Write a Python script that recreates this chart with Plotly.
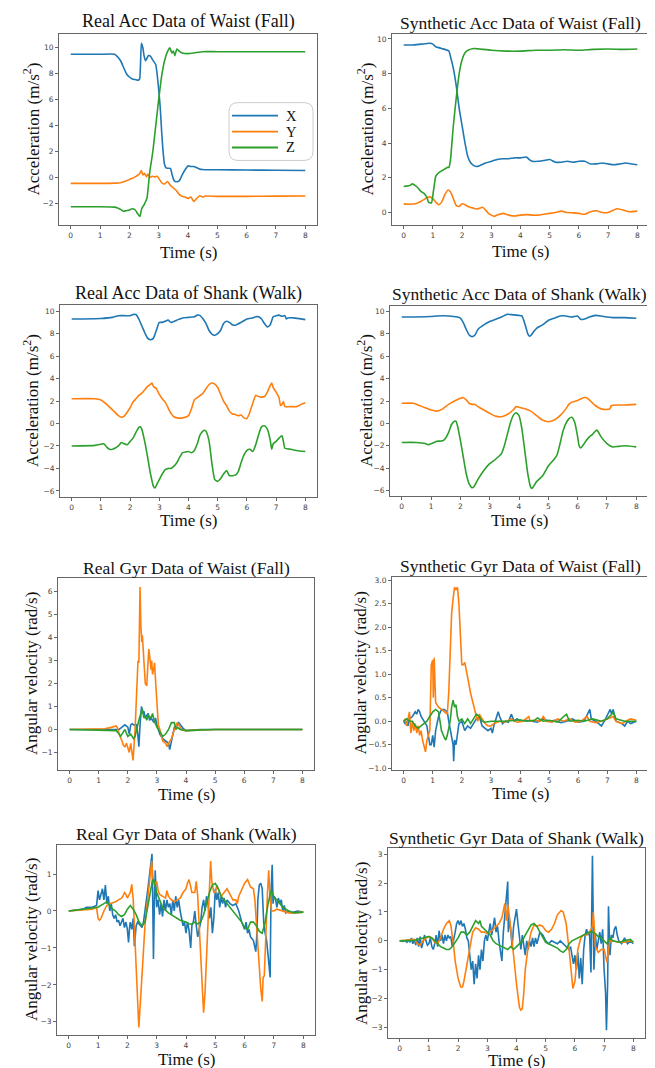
import plotly.graph_objects as go

W, H = 655, 1068
BLUE, ORANGE, GREEN = "#1f77b4", "#ff7f0e", "#2ca02c"

# ---------------- Panel 1: Real Acc Data of Waist (Fall) ----------------
p1_x_t = [0, 0.5, 1.0, 1.5, 1.6, 1.7, 1.8, 1.9, 2.0, 2.1, 2.2, 2.3, 2.35, 2.41, 2.46, 2.5, 2.55, 2.6, 2.65, 2.72, 2.8, 2.9, 3.0, 3.05, 3.1, 3.15, 3.2, 3.25, 3.3, 3.4, 3.45, 3.5, 3.55, 3.6, 3.7, 3.8, 3.9, 4.0, 4.1, 4.2, 4.3, 4.4, 4.5, 4.6, 5.0, 6.0, 7.0, 8.0]
p1_x_v = [9.5, 9.5, 9.5, 9.5, 9.3, 9.0, 8.5, 8.0, 7.75, 7.6, 7.55, 7.5, 7.6, 10.35, 10.0, 9.4, 9.0, 9.2, 9.4, 9.35, 9.05, 8.7, 6.8, 5.5, 3.6, 2.0, 1.0, 0.75, 0.72, 0.7, 0.3, -0.1, -0.3, -0.32, -0.25, 0.2, 0.6, 0.9, 0.85, 0.85, 0.75, 0.65, 0.62, 0.6, 0.6, 0.58, 0.56, 0.55]
p1_y_t = [0, 0.5, 1.0, 1.5, 1.7, 1.8, 1.9, 2.0, 2.1, 2.2, 2.3, 2.35, 2.41, 2.46, 2.52, 2.58, 2.63, 2.7, 2.78, 2.85, 2.95, 3.0, 3.1, 3.2, 3.3, 3.4, 3.5, 3.6, 3.7, 3.8, 3.9, 4.0, 4.1, 4.2, 4.3, 4.4, 4.5, 4.6, 5.0, 6.0, 7.0, 8.0]
p1_y_v = [-0.45, -0.45, -0.45, -0.43, -0.4, -0.33, -0.25, -0.15, -0.05, 0.05, 0.2, 0.3, 0.55, 0.2, 0.32, 0.05, 0.28, 0.0, 0.1, 0.05, 0.1, -0.05, -0.4, -0.5, -0.3, -0.6, -0.8, -1.0, -1.3, -1.45, -1.5, -1.6, -1.5, -1.85, -1.6, -1.4, -1.5, -1.42, -1.45, -1.45, -1.43, -1.42]
p1_z_t = [0, 0.5, 1.0, 1.5, 1.6, 1.7, 1.8, 1.9, 2.0, 2.1, 2.2, 2.3, 2.36, 2.42, 2.5, 2.6, 2.65, 2.7, 2.8, 2.9, 3.0, 3.1, 3.2, 3.3, 3.38, 3.45, 3.5, 3.55, 3.62, 3.7, 3.8, 4.0, 4.2, 4.5, 5.0, 6.0, 7.0, 8.0]
p1_z_v = [-2.25, -2.25, -2.25, -2.28, -2.35, -2.45, -2.6, -2.55, -2.5, -2.4, -2.5, -2.85, -3.0, -2.4, -2.1, -1.6, -0.6, 0.5, 2.0, 4.0, 6.0, 7.8, 9.0, 9.7, 10.0, 9.6, 9.75, 9.4, 9.9, 9.75, 9.6, 9.55, 9.6, 9.7, 9.7, 9.7, 9.7, 9.7]

# ---------------- Panel 2: Synthetic Acc Data of Waist (Fall) ----------------
p2_x_t = [0, 0.3, 0.6, 0.9, 1.0, 1.1, 1.3, 1.5, 1.55, 1.6, 1.7, 1.8, 1.9, 2.0, 2.1, 2.2, 2.3, 2.4, 2.5, 2.6, 2.8, 3.0, 3.2, 3.4, 3.6, 3.8, 4.0, 4.2, 4.3, 4.4, 4.6, 4.8, 5.0, 5.2, 5.4, 5.6, 5.8, 6.0, 6.2, 6.4, 6.6, 6.8, 7.0, 7.2, 7.4, 7.6, 7.8, 8.0]
p2_x_v = [9.65, 9.65, 9.7, 9.75, 9.7, 9.55, 9.45, 9.35, 9.3, 9.0, 8.3, 7.3, 6.0, 5.0, 4.0, 3.2, 2.85, 2.7, 2.65, 2.7, 2.85, 2.95, 3.05, 3.1, 3.1, 3.15, 3.15, 3.2, 3.05, 2.95, 2.95, 3.0, 3.05, 2.9, 2.9, 2.95, 2.9, 2.95, 2.95, 2.8, 2.8, 2.85, 2.8, 2.75, 2.8, 2.85, 2.8, 2.75]
p2_y_t = [0, 0.2, 0.4, 0.6, 0.8, 0.9, 1.0, 1.1, 1.2, 1.3, 1.4, 1.52, 1.6, 1.7, 1.8, 1.9, 2.0, 2.1, 2.2, 2.4, 2.5, 2.6, 2.7, 2.8, 2.9, 3.0, 3.1, 3.2, 3.4, 3.6, 3.8, 4.0, 4.2, 4.4, 4.6, 4.8, 5.0, 5.2, 5.4, 5.6, 5.8, 6.0, 6.2, 6.4, 6.6, 6.8, 7.0, 7.2, 7.3, 7.5, 7.7, 8.0]
p2_y_v = [0.5, 0.48, 0.5, 0.65, 0.85, 0.9, 0.8, 0.6, 0.45, 0.6, 1.0, 1.3, 1.2, 0.8, 0.4, 0.35, 0.5, 0.45, 0.35, 0.25, 0.2, 0.25, 0.3, 0.15, -0.05, -0.15, -0.22, -0.15, -0.05, -0.15, -0.2, -0.15, -0.12, -0.15, -0.15, -0.1, -0.05, 0.0, 0.08, 0.0, -0.02, -0.05, -0.1, 0.05, 0.1, 0.0, 0.0, 0.15, 0.22, 0.15, 0.05, 0.08]
p2_z_t = [0, 0.2, 0.3, 0.4, 0.5, 0.6, 0.7, 0.8, 0.85, 0.95, 1.0, 1.05, 1.1, 1.2, 1.3, 1.4, 1.5, 1.55, 1.6, 1.7, 1.8, 1.9, 2.0, 2.1, 2.2, 2.4, 2.6, 3.0, 3.5, 4.0, 4.5, 5.0, 5.5, 6.0, 6.5, 7.0, 7.5, 8.0]
p2_z_v = [1.5, 1.55, 1.65, 1.55, 1.4, 1.2, 1.1, 0.85, 0.6, 0.55, 1.0, 1.6, 2.1, 2.3, 2.4, 2.5, 2.6, 2.6, 3.0, 5.0, 6.6, 8.0, 8.8, 9.2, 9.35, 9.45, 9.42, 9.35, 9.3, 9.3, 9.35, 9.35, 9.38, 9.35, 9.4, 9.42, 9.4, 9.42]

# ---------------- Panel 3: Real Acc Data of Shank (Walk) ----------------
p3_x_t = [0, 1.0, 1.4, 1.6, 1.8, 2.0, 2.1, 2.2, 2.3, 2.4, 2.5, 2.6, 2.7, 2.8, 2.9, 3.0, 3.1, 3.2, 3.3, 3.4, 3.6, 3.8, 4.0, 4.2, 4.3, 4.4, 4.5, 4.6, 4.7, 4.8, 4.9, 5.0, 5.1, 5.2, 5.3, 5.4, 5.5, 5.6, 5.8, 6.0, 6.2, 6.3, 6.4, 6.5, 6.6, 6.7, 6.8, 6.9, 7.0, 7.1, 7.2, 7.3, 7.35, 7.4, 7.6, 8.0]
p3_x_v = [9.3, 9.35, 9.45, 9.6, 9.6, 9.6, 9.7, 9.7, 9.3, 8.7, 8.1, 7.6, 7.45, 7.6, 8.3, 9.0, 9.0, 9.1, 9.2, 9.0, 9.2, 9.4, 9.45, 9.5, 9.65, 9.6, 9.3, 8.9, 8.3, 7.95, 7.85, 8.0, 8.3, 8.9, 9.1, 9.0, 8.8, 8.75, 9.0, 9.3, 9.4, 9.5, 9.5, 9.3, 8.9, 8.6, 8.8, 9.5, 9.6, 9.65, 9.55, 9.6, 9.3, 9.4, 9.4, 9.25]
p3_y_t = [0, 0.8, 1.0, 1.2, 1.4, 1.6, 1.7, 1.8, 1.9, 2.0, 2.1, 2.2, 2.3, 2.4, 2.5, 2.6, 2.7, 2.75, 2.8, 2.9, 3.0, 3.1, 3.2, 3.3, 3.4, 3.5, 3.6, 3.8, 4.0, 4.1, 4.2, 4.3, 4.4, 4.5, 4.6, 4.7, 4.8, 4.9, 5.0, 5.1, 5.2, 5.3, 5.4, 5.5, 5.6, 5.7, 5.8, 5.9, 6.0, 6.1, 6.2, 6.3, 6.4, 6.5, 6.6, 6.7, 6.8, 6.85, 6.9, 7.0, 7.1, 7.15, 7.2, 7.25, 7.3, 7.5, 7.7, 7.9, 8.0]
p3_y_v = [2.2, 2.2, 2.1, 1.7, 1.2, 0.7, 0.55, 0.65, 1.0, 1.4, 1.9, 2.2, 2.5, 2.7, 3.0, 3.3, 3.5, 3.6, 3.3, 3.1, 2.6, 2.2, 1.9, 1.4, 0.9, 0.6, 0.5, 0.5, 0.7, 1.3, 2.1, 2.3, 2.5, 2.7, 3.1, 3.45, 3.6, 3.5, 3.2, 2.6, 2.0, 1.6, 1.1, 0.85, 0.8, 0.7, 0.75, 0.5, 0.45, 1.0, 1.8, 2.5, 2.4, 2.35, 2.4, 2.8, 3.4, 3.6, 3.2, 2.8, 2.3, 1.6, 1.7, 1.95, 1.5, 1.5, 1.5, 1.75, 1.85]
p3_z_t = [0, 0.8, 1.0, 1.1, 1.2, 1.3, 1.4, 1.6, 1.7, 1.8, 1.9, 2.0, 2.1, 2.2, 2.3, 2.35, 2.4, 2.5, 2.6, 2.7, 2.8, 2.85, 2.9, 3.0, 3.1, 3.2, 3.3, 3.4, 3.5, 3.6, 3.7, 3.8, 4.0, 4.1, 4.2, 4.3, 4.4, 4.5, 4.55, 4.6, 4.7, 4.8, 4.9, 5.0, 5.1, 5.2, 5.3, 5.35, 5.4, 5.6, 5.7, 5.8, 5.9, 6.0, 6.1, 6.2, 6.3, 6.4, 6.5, 6.6, 6.7, 6.8, 6.85, 6.9, 7.0, 7.1, 7.2, 7.25, 7.3, 7.5, 7.7, 8.0]
p3_z_v = [-2.0, -1.95, -1.85, -1.8, -2.1, -2.3, -2.3, -2.0, -1.7, -1.8, -1.9, -1.6, -1.3, -0.8, -0.35, -0.3, -0.5, -1.6, -3.0, -4.5, -5.6, -5.75, -5.5, -5.0, -4.5, -4.1, -4.0, -4.0, -3.8, -3.5, -3.0, -2.6, -2.5, -2.6, -2.4, -1.8, -1.0, -0.65, -0.6, -0.7, -1.5, -3.5, -5.0, -5.15, -4.9, -4.5, -4.2, -4.4, -4.65, -4.6, -4.3, -3.5, -2.8, -2.4, -2.3, -2.5, -1.9, -1.0, -0.3, -0.2, -0.5, -1.5, -2.3, -1.8, -1.6, -1.3, -1.1, -1.6, -2.2, -2.3, -2.4, -2.5]

# ---------------- Panel 4: Synthetic Acc Data of Shank (Walk) ----------------
p4_x_t = [0, 1.0, 1.2, 1.6, 1.9, 2.0, 2.1, 2.2, 2.3, 2.4, 2.5, 2.6, 2.8, 3.0, 3.2, 3.4, 3.6, 3.8, 4.0, 4.1, 4.2, 4.3, 4.35, 4.4, 4.5, 4.6, 4.8, 5.0, 5.2, 5.4, 5.6, 5.8, 6.0, 6.1, 6.2, 6.4, 6.6, 6.8, 7.0, 7.2, 7.6, 8.0]
p4_x_v = [9.5, 9.55, 9.6, 9.6, 9.5, 9.4, 9.0, 8.4, 7.9, 7.75, 7.9, 8.4, 8.8, 9.1, 9.3, 9.5, 9.75, 9.7, 9.65, 9.6, 8.9, 8.0, 7.8, 7.85, 8.2, 8.5, 8.8, 9.2, 9.4, 9.6, 9.6, 9.5, 9.6, 9.3, 9.3, 9.5, 9.65, 9.6, 9.5, 9.45, 9.45, 9.4]
p4_y_t = [0, 0.4, 0.6, 0.8, 1.0, 1.2, 1.4, 1.6, 1.8, 2.0, 2.1, 2.2, 2.3, 2.4, 2.5, 2.6, 2.8, 3.0, 3.2, 3.4, 3.6, 3.8, 3.9, 4.0, 4.2, 4.4, 4.6, 4.8, 5.0, 5.2, 5.4, 5.6, 5.7, 5.8, 6.0, 6.2, 6.3, 6.4, 6.6, 6.8, 7.0, 7.1, 7.15, 7.4, 7.6, 8.0]
p4_y_v = [1.8, 1.8, 1.6, 1.4, 1.2, 1.1, 1.3, 1.7, 2.0, 2.25, 2.3, 2.1, 1.8, 1.7, 1.7, 1.5, 1.2, 0.9, 0.65, 0.6, 0.8, 1.2, 1.5, 1.45, 1.3, 1.1, 0.7, 0.3, 0.15, 0.3, 0.7, 1.3, 1.7, 1.9, 2.05, 2.3, 2.3, 2.1, 1.6, 1.3, 1.25, 1.3, 1.6, 1.65, 1.65, 1.7]
p4_z_t = [0, 0.5, 0.8, 0.9, 1.1, 1.2, 1.4, 1.5, 1.6, 1.7, 1.8, 1.85, 1.9, 2.0, 2.1, 2.2, 2.3, 2.4, 2.45, 2.6, 2.8, 3.0, 3.2, 3.4, 3.5, 3.6, 3.7, 3.8, 3.9, 4.0, 4.1, 4.2, 4.3, 4.4, 4.45, 4.6, 4.8, 5.0, 5.2, 5.3, 5.4, 5.5, 5.6, 5.7, 5.8, 5.9, 6.0, 6.05, 6.1, 6.2, 6.3, 6.4, 6.5, 6.6, 6.65, 6.7, 6.8, 7.0, 7.2, 7.4, 7.6, 8.0]
p4_z_v = [-1.7, -1.7, -1.8, -1.9, -1.7, -1.6, -1.55, -1.3, -0.8, -0.1, 0.2, 0.2, -0.2, -1.5, -3.0, -4.5, -5.4, -5.75, -5.7, -5.0, -4.2, -3.6, -3.2, -2.7, -2.0, -1.0, 0.0, 0.7, 0.95, 0.7, -0.5, -2.5, -4.5, -5.7, -5.8, -5.2, -4.7, -3.8, -3.2, -2.8, -1.8, -0.7, 0.0, 0.4, 0.55, 0.1, -1.2, -2.0, -2.2, -1.9, -1.5, -1.2, -1.0, -0.7, -0.6, -0.75, -1.2, -1.8, -2.1, -2.05, -2.0, -2.1]

# ---------------- Panel 5: Real Gyr Data of Waist (Fall) ----------------
p5_x_t = [0, 1.0, 1.5, 1.7, 1.8, 1.9, 2.0, 2.05, 2.1, 2.15, 2.2, 2.3, 2.35, 2.38, 2.42, 2.47, 2.52, 2.55, 2.6, 2.7, 2.75, 2.8, 2.9, 2.95, 3.0, 3.1, 3.2, 3.3, 3.4, 3.44, 3.5, 3.55, 3.6, 3.7, 3.75, 3.8, 3.9, 4.0, 4.5, 5.0, 6.0, 7.0, 8.0]
p5_x_v = [0.0, 0.0, -0.02, 0.0, 0.1, 0.2, 0.1, -0.2, 0.2, 0.25, 0.2, 0.2, -0.3, -0.75, 0.2, 1.0, 0.7, 0.8, 0.5, 0.7, 0.4, 0.5, 0.3, 0.5, 0.2, -0.2, -0.4, -0.5, -0.6, -0.88, -0.4, -0.2, 0.1, 0.2, 0.3, 0.2, 0.05, -0.05, 0.0, 0.0, 0.0, 0.0, 0.0]
p5_y_t = [0, 1.0, 1.2, 1.4, 1.5, 1.6, 1.65, 1.7, 1.8, 1.85, 1.9, 1.95, 2.0, 2.05, 2.1, 2.15, 2.18, 2.25, 2.3, 2.32, 2.35, 2.38, 2.42, 2.45, 2.48, 2.5, 2.55, 2.6, 2.65, 2.7, 2.72, 2.75, 2.8, 2.82, 2.85, 2.9, 2.92, 2.95, 3.0, 3.05, 3.1, 3.15, 3.2, 3.3, 3.35, 3.4, 3.45, 3.5, 3.6, 3.65, 3.7, 3.75, 3.8, 3.85, 4.0, 5.0, 6.0, 7.0, 8.0]
p5_y_v = [0.0, 0.0, 0.03, 0.08, 0.12, 0.15, 0.05, -0.2, -0.5, -0.7, -0.75, -0.6, -0.8, -1.0, -0.6, -1.2, -1.35, 0.0, 1.5, 2.8, 3.0, 2.9, 6.2, 4.5, 3.8, 4.1, 3.0, 2.0, 1.9, 3.0, 3.5, 3.2, 2.6, 3.0, 2.4, 2.7, 2.9, 2.2, 1.0, 0.2, 0.0, -0.3, -0.5, -0.6, -0.75, -0.6, -0.5, -0.4, 0.0, 0.2, 0.3, 0.2, 0.1, 0.0, -0.05, 0.0, 0.0, 0.0, 0.0]
p5_z_t = [0, 1.5, 1.6, 1.7, 1.75, 1.8, 1.9, 2.0, 2.1, 2.2, 2.25, 2.3, 2.35, 2.4, 2.45, 2.5, 2.55, 2.6, 2.65, 2.7, 2.8, 2.85, 2.9, 3.0, 3.1, 3.2, 3.3, 3.4, 3.5, 3.6, 3.65, 3.7, 3.8, 4.0, 5.0, 6.0, 7.0, 8.0]
p5_z_v = [0.0, -0.02, -0.05, -0.2, -0.3, -0.2, 0.0, -0.3, -0.2, -0.4, -0.3, 0.0, 0.3, 0.5, 0.7, 0.9, 0.5, 0.6, 0.4, 0.6, 0.5, 0.7, 0.4, 0.1, -0.1, -0.3, -0.2, 0.0, 0.3, 0.3, 0.0, 0.1, 0.0, -0.05, 0.0, 0.0, 0.0, 0.0]

# ---------------- Panel 6: Synthetic Gyr Data of Waist (Fall) ----------------
p6_x_t = [0, 0.05, 0.1, 0.15, 0.2, 0.3, 0.4, 0.45, 0.5, 0.55, 0.6, 0.7, 0.8, 0.85, 0.9, 0.95, 1.0, 1.05, 1.1, 1.2, 1.3, 1.4, 1.5, 1.55, 1.6, 1.65, 1.7, 1.72, 1.75, 1.8, 1.85, 1.9, 2.0, 2.05, 2.1, 2.2, 2.3, 2.4, 2.5, 2.6, 2.7, 2.8, 2.9, 3.0, 3.05, 3.1, 3.2, 3.25, 3.3, 3.4, 3.5, 3.6, 3.7, 3.8, 3.9, 4.0, 4.2, 4.4, 4.6, 4.8, 5.0, 5.2, 5.4, 5.6, 5.8, 6.0, 6.2, 6.4, 6.45, 6.6, 6.8, 6.9, 7.1, 7.15, 7.2, 7.3, 7.5, 7.6, 7.7, 7.8, 8.0]
p6_x_v = [0.0, -0.05, 0.0, -0.1, 0.05, 0.1, 0.2, 0.15, 0.25, 0.2, 0.1, 0.0, -0.1, -0.3, -0.5, -0.5, -0.3, -0.55, -0.2, 0.1, 0.25, 0.25, 0.2, 0.0, -0.2, -0.4, -0.5, -0.85, -0.4, -0.5, -0.3, -0.05, 0.0, -0.1, -0.2, -0.1, -0.15, -0.05, 0.05, 0.1, -0.1, -0.15, -0.2, -0.15, -0.25, -0.1, 0.1, 0.2, 0.1, -0.05, 0.0, -0.02, 0.15, 0.0, 0.05, 0.0, 0.02, 0.0, -0.02, 0.05, 0.0, 0.02, -0.03, 0.0, 0.05, -0.02, 0.0, 0.25, 0.05, 0.0, -0.1, 0.0, 0.25, 0.15, 0.25, 0.0, -0.05, -0.1, 0.0, -0.05, 0.0]
p6_y_t = [0, 0.05, 0.1, 0.15, 0.2, 0.25, 0.3, 0.35, 0.4, 0.45, 0.5, 0.55, 0.6, 0.65, 0.7, 0.75, 0.8, 0.85, 0.9, 0.95, 1.0, 1.02, 1.05, 1.1, 1.15, 1.2, 1.3, 1.4, 1.5, 1.55, 1.6, 1.65, 1.7, 1.75, 1.8, 1.85, 1.9, 1.95, 2.0, 2.05, 2.1, 2.15, 2.2, 2.3, 2.4, 2.45, 2.5, 2.55, 2.6, 2.7, 2.8, 2.9, 3.0, 3.1, 3.3, 3.5, 3.7, 3.9, 4.1, 4.3, 4.35, 4.5, 4.7, 4.8, 4.9, 5.1, 5.3, 5.5, 5.7, 5.9, 6.1, 6.3, 6.4, 6.6, 6.8, 7.0, 7.2, 7.3, 7.5, 7.7, 7.8, 8.0]
p6_y_v = [0.0, 0.05, -0.1, 0.1, 0.2, -0.25, 0.0, -0.2, -0.05, -0.25, -0.1, -0.3, -0.2, -0.4, -0.55, -0.65, -0.4, -0.3, -0.2, 1.2, 1.3, 0.5, 1.35, 0.4, 0.35, 0.3, 0.25, 0.2, 0.15, 0.6, 1.5, 2.3, 2.6, 2.85, 2.8, 2.85, 2.5, 1.7, 1.2, 1.2, 1.25, 1.1, 0.9, 0.6, 0.35, 0.2, 0.1, 0.0, 0.15, 0.05, -0.05, -0.1, -0.1, -0.05, 0.0, -0.02, 0.05, -0.02, 0.0, 0.1, 0.0, 0.02, 0.0, 0.1, 0.0, -0.02, 0.05, 0.0, 0.05, -0.02, 0.0, 0.1, 0.0, -0.03, 0.0, 0.05, 0.1, 0.0, -0.05, 0.02, 0.05, 0.02]
p6_z_t = [0, 0.1, 0.2, 0.3, 0.4, 0.5, 0.6, 0.7, 0.8, 0.9, 1.0, 1.1, 1.2, 1.25, 1.3, 1.4, 1.45, 1.5, 1.6, 1.65, 1.7, 1.75, 1.8, 1.85, 1.9, 2.0, 2.1, 2.2, 2.3, 2.4, 2.5, 2.6, 2.7, 2.8, 3.0, 3.5, 4.0, 4.2, 4.5, 4.6, 4.8, 5.0, 5.3, 5.5, 5.6, 5.7, 6.0, 6.2, 6.5, 6.8, 7.0, 7.15, 7.2, 7.3, 7.6, 8.0]
p6_z_v = [0.0, 0.05, 0.0, 0.0, -0.1, -0.15, -0.1, -0.05, 0.0, 0.1, 0.2, 0.25, 0.2, 0.0, -0.2, -0.35, -0.4, -0.3, 0.0, 0.3, 0.45, 0.3, 0.35, 0.1, 0.0, 0.05, -0.05, 0.05, -0.05, 0.05, 0.15, 0.1, 0.0, -0.02, 0.0, 0.0, 0.03, 0.0, 0.02, 0.07, 0.0, 0.02, -0.02, 0.1, 0.15, 0.0, 0.02, 0.0, 0.05, 0.0, 0.05, 0.15, 0.2, 0.05, 0.0, 0.0]

# ---------------- Panel 7: Real Gyr Data of Shank (Walk) ----------------
p7_x_t = [0, 0.5, 0.6, 0.8, 0.95, 1.0, 1.05, 1.1, 1.15, 1.2, 1.25, 1.3, 1.35, 1.4, 1.45, 1.5, 1.55, 1.6, 1.65, 1.7, 1.75, 1.8, 1.85, 1.9, 1.95, 2.0, 2.04, 2.08, 2.1, 2.15, 2.2, 2.24, 2.3, 2.35, 2.4, 2.45, 2.5, 2.55, 2.6, 2.65, 2.7, 2.75, 2.84, 2.86, 2.89, 2.92, 2.95, 3.0, 3.05, 3.1, 3.15, 3.2, 3.25, 3.3, 3.35, 3.4, 3.45, 3.5, 3.55, 3.6, 3.65, 3.7, 3.75, 3.8, 3.85, 3.9, 3.95, 4.0, 4.05, 4.1, 4.16, 4.2, 4.25, 4.3, 4.35, 4.4, 4.45, 4.5, 4.55, 4.6, 4.65, 4.7, 4.75, 4.8, 4.85, 4.9, 4.95, 5.0, 5.05, 5.1, 5.15, 5.2, 5.25, 5.3, 5.35, 5.4, 5.5, 5.6, 5.7, 5.8, 5.9, 6.0, 6.05, 6.1, 6.15, 6.2, 6.3, 6.38, 6.42, 6.45, 6.5, 6.55, 6.6, 6.65, 6.7, 6.75, 6.8, 6.87, 6.9, 6.94, 6.97, 7.0, 7.05, 7.1, 7.15, 7.2, 7.25, 7.3, 7.35, 7.4, 7.5, 7.6, 7.8, 8.0]
p7_x_v = [0.0, 0.05, 0.1, 0.1, 0.15, 0.55, 0.3, 0.5, 0.6, 0.3, 0.7, 0.2, 0.4, 0.0, 0.2, -0.1, -0.2, -0.1, -0.3, -0.25, -0.4, -0.3, -0.2, -0.45, -0.3, -0.5, -0.85, -0.4, -0.3, -0.5, -0.2, -0.95, -0.4, -0.3, -0.35, -0.4, -0.45, -0.3, 0.1, 0.3, 0.6, 1.0, 1.55, 0.6, -1.3, 0.2, 1.1, 0.1, 0.3, -0.1, 0.2, -0.15, 0.3, 0.0, 0.3, 0.1, 0.2, -0.1, 0.3, 0.0, 0.4, 0.1, 0.3, 0.0, -0.2, -0.4, -0.3, -0.6, -0.3, -0.5, -1.0, -0.4, -0.3, 0.0, -0.4, -0.7, -0.5, -0.3, 0.1, 0.3, 0.0, 0.4, 0.2, -0.2, 0.1, -0.6, -0.2, 0.6, 0.3, 0.5, 0.1, 0.4, 0.2, 0.35, 0.1, 0.3, 0.2, 0.15, 0.2, 0.0, -0.3, -0.5, -0.3, -0.6, -0.5, -0.7, -0.8, -1.1, -0.6, 0.3, 0.7, 0.75, 0.6, -0.3, -0.6, -0.8, -1.2, -1.8, 0.5, 1.25, 0.2, 0.4, 0.35, 0.1, 0.35, 0.2, 0.3, 0.0, 0.15, -0.05, 0.0, -0.05, 0.0, -0.03]
p7_y_t = [0, 0.5, 0.8, 0.95, 1.0, 1.05, 1.1, 1.2, 1.3, 1.4, 1.5, 1.6, 1.7, 1.8, 1.85, 1.9, 1.95, 2.0, 2.1, 2.15, 2.2, 2.25, 2.3, 2.35, 2.39, 2.45, 2.5, 2.55, 2.6, 2.65, 2.7, 2.75, 2.8, 2.83, 2.87, 2.92, 3.0, 3.05, 3.1, 3.2, 3.3, 3.35, 3.4, 3.5, 3.6, 3.7, 3.8, 3.9, 4.0, 4.05, 4.1, 4.15, 4.2, 4.25, 4.3, 4.35, 4.4, 4.45, 4.5, 4.55, 4.6, 4.65, 4.7, 4.75, 4.8, 4.84, 4.88, 4.95, 5.0, 5.05, 5.1, 5.2, 5.3, 5.4, 5.5, 5.6, 5.7, 5.75, 5.8, 5.9, 6.0, 6.1, 6.2, 6.3, 6.35, 6.4, 6.45, 6.5, 6.55, 6.6, 6.63, 6.67, 6.72, 6.78, 6.82, 6.87, 6.92, 7.0, 7.1, 7.3, 7.5, 7.7, 8.0]
p7_y_v = [0.0, 0.02, 0.05, 0.1, -0.2, -0.25, -0.2, 0.0, 0.15, 0.2, 0.22, 0.25, 0.3, 0.35, 0.4, 0.5, 0.45, 0.35, 0.5, 0.72, 0.3, -0.6, -1.5, -2.4, -3.15, -2.4, -1.6, -0.9, -0.4, 0.0, 0.4, 0.7, 1.0, 1.35, 0.9, 0.7, 0.8, 0.55, 0.45, 0.4, 0.35, 0.55, 0.4, 0.3, 0.25, 0.3, 0.35, 0.5, 0.6, 0.75, 0.85, 0.7, 0.5, 0.5, 0.5, 0.8, 0.4, -0.4, -1.3, -2.2, -2.75, -2.2, -1.2, -0.2, 0.8, 1.35, 0.8, 0.5, 0.5, 0.7, 0.6, 0.4, 0.5, 0.6, 0.45, 0.3, 0.3, 0.2, 0.4, 0.6, 0.75, 0.85, 0.65, 0.6, 0.3, -0.3, -1.0, -1.6, -2.1, -2.45, -1.8, -1.75, -0.5, 0.5, 1.1, 0.3, 0.0, 0.0, 0.05, 0.0, -0.05, -0.05, -0.03]
p7_z_t = [0, 0.5, 1.0, 1.2, 1.3, 1.4, 1.5, 1.6, 1.7, 1.8, 1.9, 2.0, 2.1, 2.2, 2.3, 2.4, 2.5, 2.6, 2.7, 2.8, 2.85, 2.9, 2.95, 3.0, 3.1, 3.2, 3.4, 3.6, 3.8, 4.0, 4.1, 4.2, 4.3, 4.4, 4.5, 4.6, 4.7, 4.8, 4.9, 5.0, 5.1, 5.2, 5.3, 5.5, 5.7, 5.9, 6.0, 6.1, 6.2, 6.3, 6.4, 6.5, 6.6, 6.7, 6.8, 6.9, 6.95, 7.0, 7.1, 7.2, 7.3, 7.5, 7.7, 8.0]
p7_z_v = [0.0, 0.05, 0.1, 0.2, 0.25, 0.15, 0.05, 0.0, -0.1, -0.15, -0.1, 0.05, 0.15, 0.05, -0.1, -0.3, -0.4, -0.3, 0.1, 0.5, 0.8, 0.85, 0.7, 0.5, 0.3, 0.1, -0.05, -0.15, -0.25, -0.3, -0.35, -0.35, -0.3, -0.35, -0.3, -0.1, 0.2, 0.5, 0.7, 0.75, 0.6, 0.4, 0.3, 0.1, -0.1, -0.3, -0.45, -0.5, -0.3, -0.3, -0.4, -0.55, -0.6, -0.3, 0.2, 0.55, 0.5, 0.35, 0.3, 0.2, 0.1, 0.0, -0.05, -0.03]

# ---------------- Panel 8: Synthetic Gyr Data of Shank (Walk) ----------------
p8_x_t = [0, 0.1, 0.2, 0.25, 0.3, 0.35, 0.4, 0.45, 0.5, 0.55, 0.6, 0.65, 0.7, 0.75, 0.8, 0.85, 0.9, 0.95, 1.0, 1.05, 1.1, 1.15, 1.2, 1.25, 1.3, 1.35, 1.4, 1.45, 1.5, 1.55, 1.6, 1.65, 1.7, 1.75, 1.8, 1.85, 1.9, 1.95, 2.0, 2.05, 2.1, 2.15, 2.2, 2.25, 2.3, 2.35, 2.4, 2.45, 2.5, 2.55, 2.6, 2.65, 2.7, 2.75, 2.8, 2.85, 2.9, 2.95, 3.0, 3.05, 3.1, 3.15, 3.2, 3.25, 3.3, 3.35, 3.4, 3.45, 3.5, 3.55, 3.6, 3.65, 3.7, 3.72, 3.75, 3.8, 3.85, 3.9, 3.95, 4.0, 4.05, 4.1, 4.15, 4.2, 4.25, 4.3, 4.35, 4.4, 4.45, 4.5, 4.55, 4.6, 4.65, 4.7, 4.75, 4.8, 4.9, 5.0, 5.1, 5.2, 5.3, 5.4, 5.5, 5.6, 5.7, 5.8, 5.85, 5.9, 5.95, 6.0, 6.05, 6.1, 6.15, 6.2, 6.25, 6.3, 6.35, 6.4, 6.45, 6.5, 6.55, 6.6, 6.62, 6.65, 6.7, 6.75, 6.8, 6.85, 6.9, 6.95, 7.0, 7.05, 7.08, 7.12, 7.15, 7.2, 7.25, 7.3, 7.35, 7.4, 7.45, 7.5, 7.6, 7.7, 7.8, 7.9, 8.0]
p8_x_v = [0.0, -0.02, 0.0, -0.05, 0.05, -0.05, 0.1, -0.1, 0.05, -0.15, 0.1, -0.2, 0.15, -0.25, -0.05, 0.2, 0.0, -0.15, -0.1, 0.1, -0.2, -0.3, -0.1, 0.2, -0.2, 0.35, 0.0, 0.2, -0.1, 0.2, 0.0, 0.2, 0.1, 0.15, -0.2, 0.0, 0.3, 0.6, 0.7, 0.55, 0.7, 0.5, 0.6, 0.4, 0.1, 0.0, -0.5, -1.0, -0.7, -1.5, -0.8, -1.3, -0.5, -1.0, -0.3, -0.7, 0.0, 0.2, 0.0, 0.4, 0.6, 0.2, 0.5, 0.8, 0.3, 0.5, 0.0, -0.3, -0.7, 0.3, 0.9, 1.3, 2.05, 0.3, 0.8, 0.4, -0.2, 0.5, 0.9, 1.1, 0.6, 0.0, -0.3, 0.2, -0.1, -0.5, 0.0, -0.3, 0.0, -0.2, 0.1, -0.2, 0.1, -0.1, 0.1, 0.3, 0.2, 0.0, -0.1, 0.0, -0.05, -0.1, 0.0, -0.1, -0.2, -0.3, -0.2, -0.5, -0.8, -0.5, -1.0, -0.4, -1.3, -0.6, -1.5, -0.3, 0.2, 0.4, 0.2, 0.3, -1.1, 2.95, -0.3, -1.0, 0.2, -0.3, 0.0, 0.3, -0.1, 0.4, -1.0, -1.8, -3.1, -1.5, 1.2, -0.5, 0.2, 0.1, 0.4, 0.5, 0.2, 0.0, -0.1, 0.1, -0.1, 0.0, -0.1]
p8_y_t = [0, 0.3, 0.5, 0.6, 0.7, 0.8, 0.9, 1.0, 1.1, 1.2, 1.3, 1.4, 1.5, 1.6, 1.7, 1.75, 1.8, 1.85, 1.9, 2.0, 2.09, 2.15, 2.2, 2.3, 2.4, 2.5, 2.6, 2.7, 2.8, 2.9, 3.0, 3.1, 3.2, 3.3, 3.4, 3.5, 3.6, 3.65, 3.7, 3.75, 3.8, 3.85, 3.9, 4.0, 4.1, 4.15, 4.2, 4.25, 4.3, 4.4, 4.5, 4.6, 4.7, 4.8, 4.9, 5.0, 5.1, 5.2, 5.3, 5.4, 5.53, 5.6, 5.7, 5.8, 5.87, 5.93, 6.0, 6.05, 6.1, 6.2, 6.3, 6.4, 6.5, 6.6, 6.63, 6.67, 6.7, 6.8, 6.9, 7.0, 7.05, 7.1, 7.15, 7.2, 7.3, 7.5, 7.7, 7.9, 8.0]
p8_y_v = [0.0, 0.02, 0.05, -0.1, -0.15, 0.0, 0.1, 0.15, 0.1, -0.05, -0.1, 0.1, 0.4, 0.6, 0.7, 0.55, 0.2, -0.2, -0.7, -1.3, -1.6, -1.6, -1.4, -0.8, -0.2, 0.3, 0.45, 0.4, 0.3, 0.3, 0.25, 0.3, 0.4, 0.5, 0.6, 0.8, 1.3, 0.7, 1.25, 0.9, 0.5, 0.0, -0.5, -1.5, -2.3, -2.4, -2.35, -1.8, -1.0, -0.2, 0.3, 0.55, 0.5, 0.55, 0.5, 0.35, 0.3, 0.4, 0.6, 0.9, 1.05, 1.0, 0.6, -0.3, -1.1, -1.65, -1.4, -0.8, -0.3, 0.1, 0.2, 0.2, 0.3, 0.5, 1.0, 0.3, -0.2, -0.4, -0.3, -0.3, -0.6, -0.75, -0.3, 0.0, 0.0, -0.05, -0.05, 0.0, -0.05]
p8_z_t = [0, 0.5, 0.8, 1.0, 1.1, 1.2, 1.3, 1.4, 1.5, 1.6, 1.7, 1.8, 1.9, 2.0, 2.1, 2.2, 2.3, 2.4, 2.5, 2.6, 2.7, 2.75, 2.8, 2.9, 3.0, 3.1, 3.2, 3.3, 3.4, 3.5, 3.6, 3.7, 3.8, 3.9, 4.0, 4.1, 4.2, 4.3, 4.4, 4.5, 4.6, 4.7, 4.8, 4.9, 5.0, 5.1, 5.2, 5.3, 5.4, 5.5, 5.6, 5.7, 5.8, 5.9, 6.0, 6.1, 6.2, 6.3, 6.4, 6.5, 6.6, 6.7, 6.8, 6.9, 7.0, 7.1, 7.2, 7.3, 7.5, 7.7, 7.9, 8.0]
p8_z_v = [0.0, 0.02, 0.1, 0.15, 0.1, 0.0, -0.1, -0.2, -0.25, -0.3, -0.3, -0.2, -0.05, 0.1, 0.3, 0.3, 0.2, 0.3, 0.5, 0.7, 0.6, 0.7, 0.5, 0.4, 0.3, 0.2, 0.0, -0.1, -0.15, -0.2, -0.25, -0.3, -0.2, -0.3, -0.2, -0.1, 0.0, 0.2, 0.4, 0.55, 0.6, 0.5, 0.3, 0.1, -0.05, -0.1, -0.15, -0.2, -0.25, -0.35, -0.4, -0.3, -0.1, 0.0, 0.05, 0.1, 0.15, 0.2, 0.25, 0.3, 0.3, 0.25, 0.15, 0.1, 0.0, -0.1, 0.1, 0.0, -0.05, 0.0, 0.05, -0.05]

# ---------------- Texts and axis settings ----------------
titles = ["Real Acc Data of Waist (Fall)", "Synthetic Acc Data of Waist (Fall)",
          "Real Acc Data of Shank (Walk)", "Synthetic Acc Data of Shank (Walk)",
          "Real Gyr Data of Waist (Fall)", "Synthetic Gyr Data of Waist (Fall)",
          "Real Gyr Data of Shank (Walk)", "Synthetic Gyr Data of Shank (Walk)"]
acc_label = "Acceleration (m/s<sup>2</sup>)"
gyr_label = "Angular velocity (rad/s)"
ylabels = [acc_label, acc_label, acc_label, acc_label, gyr_label, gyr_label, gyr_label, gyr_label]
xlabel = "Time (s)"
series_names = ["X", "Y", "Z"]
x_ticks = [0, 1, 2, 3, 4, 5, 6, 7, 8]
y_ticks = [
    [-2, 0, 2, 4, 6, 8, 10],
    [0, 2, 4, 6, 8, 10],
    [-6, -4, -2, 0, 2, 4, 6, 8, 10],
    [-6, -4, -2, 0, 2, 4, 6, 8, 10],
    [-1, 0, 1, 2, 3, 4, 5, 6],
    [-1.0, -0.5, 0.0, 0.5, 1.0, 1.5, 2.0, 2.5, 3.0],
    [-3, -2, -1, 0, 1],
    [-3, -2, -1, 0, 1, 2, 3],
]
y_ranges = [[-3.67, 11.07], [-0.73, 10.29], [-6.56, 10.56], [-6.5, 10.5],
            [-1.77, 6.6], [-1.04, 3.07], [-3.36, 1.79], [-3.37, 3.22]]
x_range = [-0.4, 8.4]

panels = [
    (p1_x_t, p1_x_v, p1_y_t, p1_y_v, p1_z_t, p1_z_v),
    (p2_x_t, p2_x_v, p2_y_t, p2_y_v, p2_z_t, p2_z_v),
    (p3_x_t, p3_x_v, p3_y_t, p3_y_v, p3_z_t, p3_z_v),
    (p4_x_t, p4_x_v, p4_y_t, p4_y_v, p4_z_t, p4_z_v),
    (p5_x_t, p5_x_v, p5_y_t, p5_y_v, p5_z_t, p5_z_v),
    (p6_x_t, p6_x_v, p6_y_t, p6_y_v, p6_z_t, p6_z_v),
    (p7_x_t, p7_x_v, p7_y_t, p7_y_v, p7_z_t, p7_z_v),
    (p8_x_t, p8_x_v, p8_y_t, p8_y_v, p8_z_t, p8_z_v),
]
smooth = [True, True, True, True, False, False, False, False]

# plot frames in pixels: left, right, top, bottom
boxes = [(51, 309, 25, 217), (384, 641, 25, 217),
         (52, 309, 297, 490), (382, 640, 298, 489),
         (50, 306, 571, 764), (384, 640, 570, 764),
         (49, 307, 839, 1030), (380, 637, 842, 1033)]
title_y = [13, 14, 286, 286, 561, 559, 828, 832]
title_size = [18, 17.5, 18, 17.5, 17.5, 17.5, 17.5, 17.5]
xlab_y = [244, 243, 513, 513, 788, 787, 1054, 1055]
ylab_x = [23, 357, 23, 357, 23, 353, 23, 354]

def px(x):
    return x / W

def py(y):
    return 1 - y / H

SERIF = "Liberation Serif, Times New Roman, serif"
SANS = "DejaVu Sans, sans-serif"

fig = go.Figure()
layout = dict(width=W, height=H, margin=dict(l=0, r=0, t=0, b=0),
              paper_bgcolor="white", plot_bgcolor="white", showlegend=False)
annotations = []
shapes = []
colors = [BLUE, ORANGE, GREEN]

for i, data in enumerate(panels):
    n = i + 1
    xa = "x" if n == 1 else f"x{n}"
    ya = "y" if n == 1 else f"y{n}"
    for k in range(3):
        t, v = data[2 * k], data[2 * k + 1]
        fig.add_trace(go.Scatter(
            x=t, y=v, mode="lines", name=series_names[k], xaxis=xa, yaxis=ya,
            line=dict(color=colors[k], width=1.6,
                      shape="spline" if smooth[i] else "linear",
                      smoothing=0.5 if smooth[i] else None),
            showlegend=False))
    L, R, T, B = boxes[i]
    axis_common = dict(showline=True, linecolor="#666666", linewidth=1, mirror=True,
                       ticks="outside", ticklen=3, tickcolor="#666666", tickwidth=0.8,
                       showgrid=False, zeroline=False,
                       tickfont=dict(family=SANS, size=7.5, color="#444"))
    layout[f"xaxis{'' if n == 1 else n}"] = dict(
        domain=[px(L), px(R)], anchor=ya, range=x_range, tickvals=x_ticks, **axis_common)
    ydict = dict(domain=[py(B), py(T)], anchor=xa, range=y_ranges[i], tickvals=y_ticks[i],
                 **axis_common)
    if n == 6:
        ydict["tickformat"] = ".1f"
    layout[f"yaxis{'' if n == 1 else n}"] = ydict
    cx = (L + R) / 2
    annotations.append(dict(text=titles[i], x=px(cx), y=py(title_y[i]), xref="paper", yref="paper",
                            showarrow=False, xanchor="center", yanchor="middle",
                            font=dict(family=SERIF, size=title_size[i], color="#111")))
    annotations.append(dict(text=xlabel, x=px(cx), y=py(xlab_y[i]), xref="paper", yref="paper",
                            showarrow=False, xanchor="center", yanchor="middle",
                            font=dict(family=SERIF, size=17, color="#111")))
    annotations.append(dict(text=ylabels[i], x=px(ylab_x[i]), y=py((T + B) / 2), xref="paper",
                            yref="paper", showarrow=False, xanchor="center", yanchor="middle",
                            textangle=-90, font=dict(family=SERIF, size=17, color="#111")))

# legend in panel 1 (rounded box, line samples, labels)
lx0, lx1, ly0, ly1, r = 221, 305, 94, 152, 9
path = (f"M {px(lx0 + r)},{py(ly0)} L {px(lx1 - r)},{py(ly0)} "
        f"Q {px(lx1)},{py(ly0)} {px(lx1)},{py(ly0 + r)} L {px(lx1)},{py(ly1 - r)} "
        f"Q {px(lx1)},{py(ly1)} {px(lx1 - r)},{py(ly1)} L {px(lx0 + r)},{py(ly1)} "
        f"Q {px(lx0)},{py(ly1)} {px(lx0)},{py(ly1 - r)} L {px(lx0)},{py(ly0 + r)} "
        f"Q {px(lx0)},{py(ly0)} {px(lx0 + r)},{py(ly0)} Z")
shapes.append(dict(type="path", path=path, xref="paper", yref="paper",
                   line=dict(color="#cccccc", width=1), fillcolor="rgba(255,255,255,0.85)"))
leg_y = [107, 123, 139]
for k in range(3):
    shapes.append(dict(type="line", xref="paper", yref="paper", x0=px(224), x1=px(270),
                       y0=py(leg_y[k]), y1=py(leg_y[k]), line=dict(color=colors[k], width=1.8)))
    annotations.append(dict(text=series_names[k], x=px(276), y=py(leg_y[k]), xref="paper",
                            yref="paper", showarrow=False, xanchor="left", yanchor="middle",
                            font=dict(family=SERIF, size=14.5, color="#111")))

layout["annotations"] = annotations
layout["shapes"] = shapes
fig.update_layout(**layout)
fig.write_html("out.html")
